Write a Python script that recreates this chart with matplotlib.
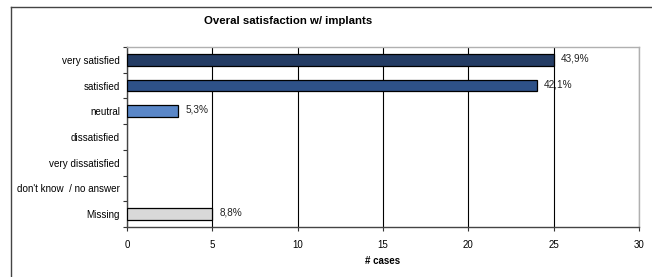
import matplotlib.pyplot as plt
from matplotlib.lines import Line2D

plt.rcParams['font.family'] = ['Liberation Sans', 'DejaVu Sans']

categories = ["very satisfied", "satisfied", "neutral", "dissatisfied",
              "very dissatisfied", "don't know  / no answer", "Missing"]
cases = [25, 24, 3, 0, 0, 0, 5]
pct_labels = ["43,9%", "42,1%", "5,3%", "", "", "", "8,8%"]
bar_colors = ["#243c64", "#2e5188", "#5a87c8", "#5a87c8", "#5a87c8", "#5a87c8", "#d9d9d9"]

fig = plt.figure(figsize=(6.52, 2.77), dpi=100)
ax = fig.add_axes([127 / 652, 1 - 227 / 277, 512 / 652, 180 / 277])

pos = list(range(len(categories)))
for i, (v, c) in enumerate(zip(cases, bar_colors)):
    if v > 0:
        ax.barh(i, v, height=0.46, color=c, edgecolor="black", linewidth=0.9, zorder=3)
    if pct_labels[i]:
        ax.annotate(pct_labels[i], (v, i), xytext=(5, 1), textcoords="offset points",
                    va="center", ha="left", fontsize=7.2, color="#222222")

ax.set_xlim(0, 30)
ax.set_ylim(len(categories) - 0.5, -0.5)
ax.set_xticks(range(0, 31, 5))
ax.tick_params(axis="x", labelsize=7, length=3, width=0.8, color="#333333", pad=6)

# category labels in the middle, tick marks on the boundaries
ax.set_yticks([p - 0.5 for p in pos] + [len(categories) - 0.5])
ax.set_yticklabels([])
ax.set_yticks(pos, minor=True)
ax.set_yticklabels(categories, minor=True, fontsize=7.1)
ax.tick_params(axis="y", which="major", length=3, width=0.8, color="#333333")
ax.tick_params(axis="y", which="minor", length=0, pad=5)

ax.grid(axis="x", color="black", linewidth=0.8, zorder=0)
for s in ["left", "bottom"]:
    ax.spines[s].set_color("#444444")
    ax.spines[s].set_linewidth(1.0)
for s in ["top", "right"]:
    ax.spines[s].set_color("#b0b0b0")
    ax.spines[s].set_linewidth(1.0)

ax.set_xlabel("# cases", fontsize=7, fontweight="bold", labelpad=5)
fig.text(288 / 652, 1 - 21 / 277, "Overal satisfaction w/ implants",
         ha="center", va="center", fontsize=8.2, fontweight="bold")

# outer frame (left and top edges visible)
fig.add_artist(Line2D([10.5 / 652, 10.5 / 652], [0, 1 - 6.5 / 277], color="#444444", linewidth=1.0))
fig.add_artist(Line2D([10.5 / 652, 1], [1 - 6.5 / 277, 1 - 6.5 / 277], color="#444444", linewidth=1.0))

fig.savefig("out.png", dpi=100)
